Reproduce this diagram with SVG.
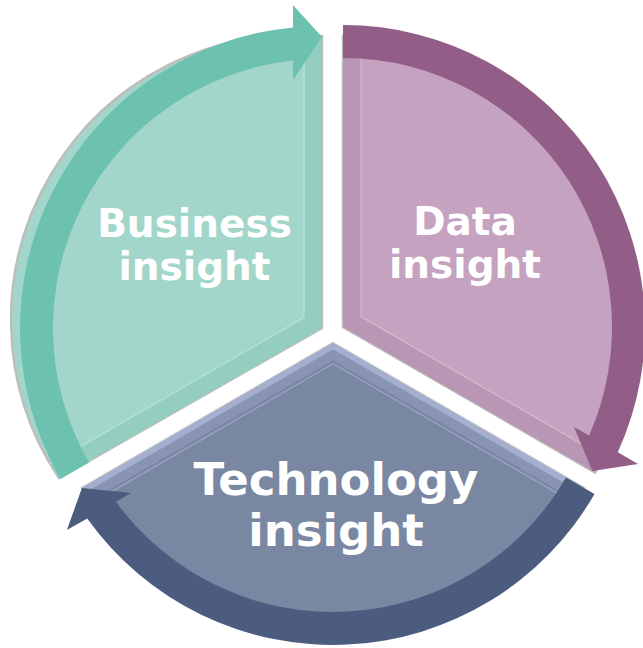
<svg xmlns="http://www.w3.org/2000/svg" width="643" height="648" viewBox="0 0 643 648">
  <style>
    .lbl { font-family: "DejaVu Sans", "Liberation Sans", sans-serif; font-weight: bold; fill: #ffffff; text-anchor: middle; }
    .thin { fill: none; stroke-width: 1.3; }
    .strip { fill: none; stroke-linejoin: miter; }
  </style>
  <defs>
    <clipPath id="clipB"><path d="M 322 328 L 322 36 A 285 285 0 0 0 59 478 Z"/></clipPath>
    <clipPath id="clipD"><path d="M 343 327 L 343 36 A 291 291 0 0 1 595 472.5 Z"/></clipPath>
    <clipPath id="clipT"><path d="M 333 343 L 584.1 488 A 290 290 0 0 1 81.9 488 Z"/></clipPath>
  </defs>
  <rect width="643" height="648" fill="#ffffff"/>

  <g id="node-business">
    <path d="M 322 328 L 322 36 A 285 285 0 0 0 59 478 Z" fill="#A2D6CA" stroke="#BDBDBD" stroke-width="2.5"/>
    <polyline class="strip" points="322,0 322,328 45,488" clip-path="url(#clipB)" stroke="#94CEC1" stroke-width="36"/>
    <polyline class="thin" points="304,20 304,317.6 44.2,467.6" clip-path="url(#clipB)" stroke="#B6E0D6"/>
    <text class="lbl" font-size="39"><tspan x="194.5" y="237">Business</tspan><tspan x="194.5" y="280">insight</tspan></text>
  </g>

  <g id="node-data">
    <path d="M 343 327 L 343 36 A 291 291 0 0 1 595 472.5 Z" fill="#C5A2BF" stroke="#BDBDBD" stroke-width="2.5"/>
    <polyline class="strip" points="343,0 343,327 620,487" clip-path="url(#clipD)" stroke="#BA96B5" stroke-width="36"/>
    <polyline class="thin" points="361,20 361,316.6 620.8,466.6" clip-path="url(#clipD)" stroke="#D3B7CE"/>
    <text class="lbl" font-size="39"><tspan x="465" y="235">Data</tspan><tspan x="465" y="278">insight</tspan></text>
  </g>

  <g id="node-technology">
    <path d="M 333 343 L 584.1 488 A 290 290 0 0 1 81.9 488 Z" fill="#7A87A2" stroke="#CFCFCF" stroke-width="2.5"/>
    <polyline class="strip" points="610,503 333,343 56,503" clip-path="url(#clipT)" stroke="#8894B2" stroke-width="30"/>
    <polyline class="strip" points="610,503 333,343 56,503" clip-path="url(#clipT)" stroke="#A4AFCF" stroke-width="11"/>
    <polyline class="thin" points="592.8,513.8 333,363.8 73.2,513.8" clip-path="url(#clipT)" stroke="#9AA5C3"/>
    <text class="lbl" font-size="45"><tspan x="336" y="495">Technology</tspan><tspan x="336" y="546">insight</tspan></text>
  </g>

  <g id="connectors">
    <path id="arrow-business-data" d="M 60.5 479 A 302 302 0 0 1 293 27.4 L 293 5 L 322 37 L 293 80 L 293 60.6 A 269 269 0 0 0 89 462.5 Z" fill="#6CC1AF"/>
    <path id="arrow-data-technology" d="M 343 25 A 302 302 0 0 1 617.8 452.2 L 638.1 463.9 L 592.4 471 L 574 426.9 L 589.1 435.6 A 269 269 0 0 0 343 58 Z" fill="#925E87"/>
    <path id="arrow-technology-business" d="M 594.5 494 A 302 302 0 0 1 87.2 518.4 L 66.9 530.1 L 81.9 488 L 131 493.1 L 115.9 501.8 A 269 269 0 0 0 566 477.5 Z" fill="#4C5C7F"/>
  </g>
</svg>
